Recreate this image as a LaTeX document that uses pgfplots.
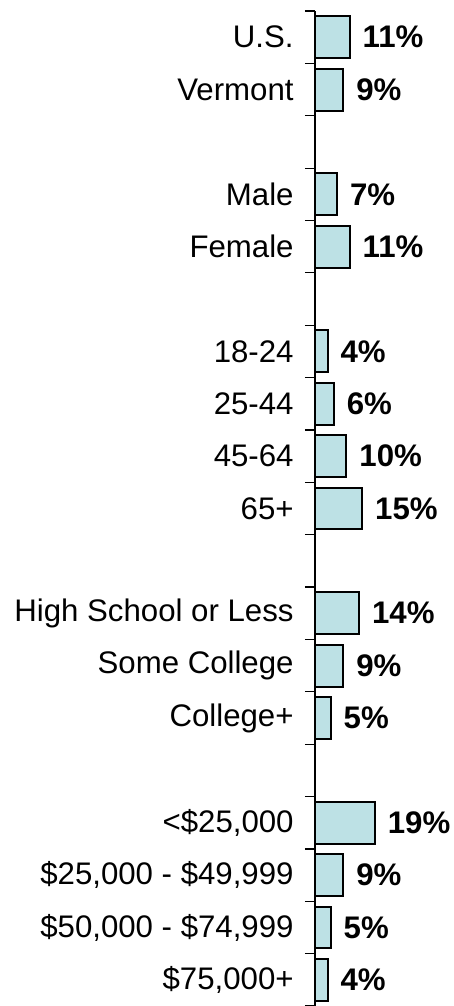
\documentclass[border=0pt]{standalone}
\usepackage{pgfplots}
\pgfplotsset{compat=1.18}
\usepackage{fontspec}
\setmainfont{Liberation Sans}
\definecolor{barfill}{RGB}{189,225,229}
\begin{document}
\begin{tikzpicture}
\begin{axis}[
  at={(0,0)}, anchor=south west,
  scale only axis, width=69.5pt, height=497.5pt,
  xmin=0, xmax=44.13, ymin=-0.5, ymax=18.5, y dir=reverse,
  xbar, bar width=0.8, bar shift=0pt,
  axis x line=none, axis y line*=left,
  axis line style={line width=0.8pt},
  /pgf/number format/assume math mode=true,
  ytick={0,1,3,4,6,7,8,9,11,12,13,15,16,17,18},
  yticklabels={{U.S.},{Vermont},{Male},{Female},{18-24},{25-44},{45-64},{65+},{High School or Less},{Some College},{College+},{<\$25,000},{\$25,000 - \$49,999},{\$50,000 - \$74,999},{\$75,000+}},
  major tick length=0pt,
  minor ytick={-0.5,0.5,1.5,2.5,3.5,4.5,5.5,6.5,7.5,8.5,9.5,10.5,11.5,12.5,13.5,14.5,15.5,16.5,17.5,18.5},
  minor tick length=5pt, tick align=outside,
  minor tick style={line width=0.6pt, black},
  yticklabel style={font=\fontsize{15.6}{18}\selectfont, inner sep=0pt, xshift=-10.5pt},
  clip=false,
  nodes near coords={\pgfmathprintnumber[assume math mode=true]{\pgfplotspointmeta}\%},
  nodes near coords style={font=\fontsize{15.6}{18}\selectfont\bfseries, anchor=west, inner sep=0pt, xshift=6pt},
]
\addplot[draw=black, line width=1pt, fill=barfill] coordinates {
  (11,0) (9,1) (7,3) (11,4) (4,6) (6,7) (10,8) (15,9)
  (14,11) (9,12) (5,13) (19,15) (9,16) (5,17) (4,18)
};
\end{axis}
\pgfresetboundingbox
\path[use as bounding box] (-157.5pt,0pt) rectangle (69.5pt,503pt);
\end{tikzpicture}
\end{document}
